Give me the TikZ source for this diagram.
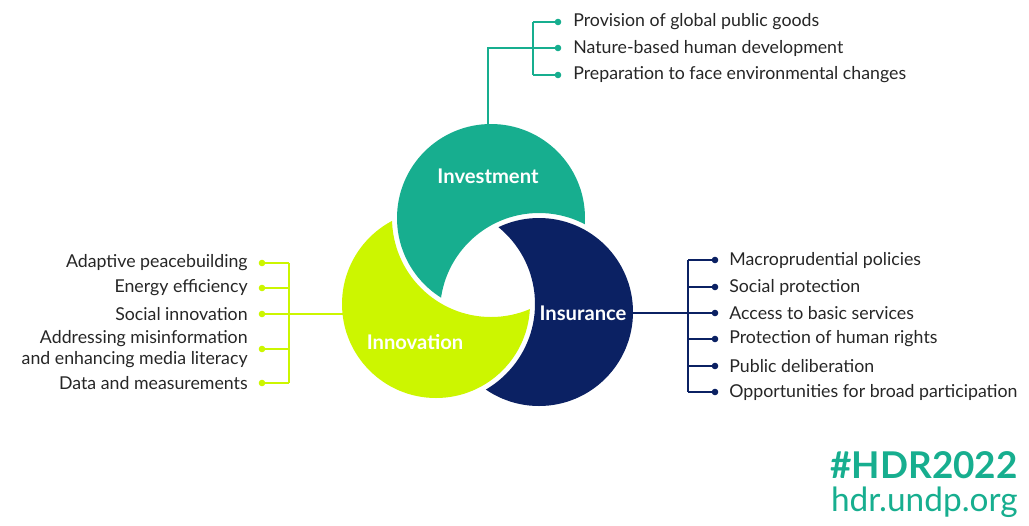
\documentclass[tikz,border=0pt]{standalone}
\usepackage{fontspec}
\setmainfont{Lato}
\usepackage{xcolor}
\definecolor{invest}{RGB}{23,174,143}
\definecolor{innov}{RGB}{204,246,0}
\definecolor{insur}{RGB}{11,33,99}
\tikzset{
    item/.style={font=\fontsize{10.1}{12.2}\selectfont,text=black!85,inner sep=0pt},
    hub/.style={font=\bfseries\fontsize{11.5}{14}\selectfont,text=white,inner sep=0pt},
    tick/.style={line width=0.8pt}
}
\begin{document}
\begin{tikzpicture}[x=0.02cm,y=-0.02cm]
    \useasboundingbox (0,0) rectangle (1029,525);
    % the three rings
    \def\rad{94}
    \begin{scope}[even odd rule]
        \clip (0,0) rectangle (1029,525) (539,312) circle (99);
        \fill[invest] (491,218) circle (\rad);
    \end{scope}
    \begin{scope}[even odd rule]
        \clip (0,0) rectangle (1029,525) (436,304) circle (99);
        \fill[insur] (539,312) circle (\rad);
    \end{scope}
    \begin{scope}[even odd rule]
        \clip (0,0) rectangle (1029,525) (491,218) circle (99);
        \fill[innov] (436,304) circle (\rad);
    \end{scope}
    \node[hub] (inv) at (488,176) {Investment};
    \node[hub] (ins) at (583,313) {Insurance};
    \node[hub] (inn) at (415,342) {Innovation};
    \coordinate (invtop) at (488,125);
    \coordinate (insright) at (632,313);
    \coordinate (innleft) at (343,314);

    % investment list
    \coordinate (tb) at (533,48);
    \draw[invest,tick] (invtop) |- (tb);
    \draw[invest,tick] (533,22) -- (533,75);
    \foreach \y/\t [count=\i] in {22/Provision of global public goods,48/Nature-based human development,75/Preparation to face environmental changes}{
        \node[item,anchor=west] (a\i) at (573,\y) {\t};
        \fill[invest] (558,\y) circle (3.3) coordinate (da\i);
        \draw[invest,tick] (533,\y) -- (da\i);
    }
    % insurance list
    \draw[insur,tick] (insright) -- (688,313);
    \draw[insur,tick] (688,260) -- (688,392);
    \foreach \y/\t [count=\i] in {260/Macroprudential policies,287/Social protection,313/Access to basic services,339/Protection of human rights,366/Public deliberation,392/Opportunities for broad participation}{
        \node[item,anchor=west] (b\i) at (729,\y) {\t};
        \fill[insur] (715,\y) circle (3.3) coordinate (db\i);
        \draw[insur,tick] (688,\y) -- (db\i);
    }
    % innovation list
    \draw[innov,tick] (innleft) -- (289,314);
    \draw[innov,tick] (289,263) -- (289,383);
    \foreach \y/\t [count=\i] in {263/Adaptive peacebuilding,288/Energy efficiency,314/Social innovation,383/Data and measurements}{
        \node[item,anchor=east] (c\i) at (248,\y) {\t};
        \fill[innov] (262,\y) circle (3.3) coordinate (dc\i);
        \draw[innov,tick] (289,\y) -- (dc\i);
    }
    \node[item,anchor=east,align=right] (c5) at (248,349) {Addressing misinformation\\and enhancing media literacy};
    \fill[innov] (262,349) circle (3.3) coordinate (dc5);
    \draw[innov,tick] (289,349) -- (dc5);

    \node[anchor=east,text=invest,font=\bfseries\fontsize{21}{24}\selectfont,inner sep=0pt] (tag) at (1018,465) {\#HDR2022};
    \node[anchor=east,text=invest,font=\fontsize{19}{22}\selectfont,inner sep=0pt] (url) at (1018,502) {hdr.undp.org};
\end{tikzpicture}
\end{document}
